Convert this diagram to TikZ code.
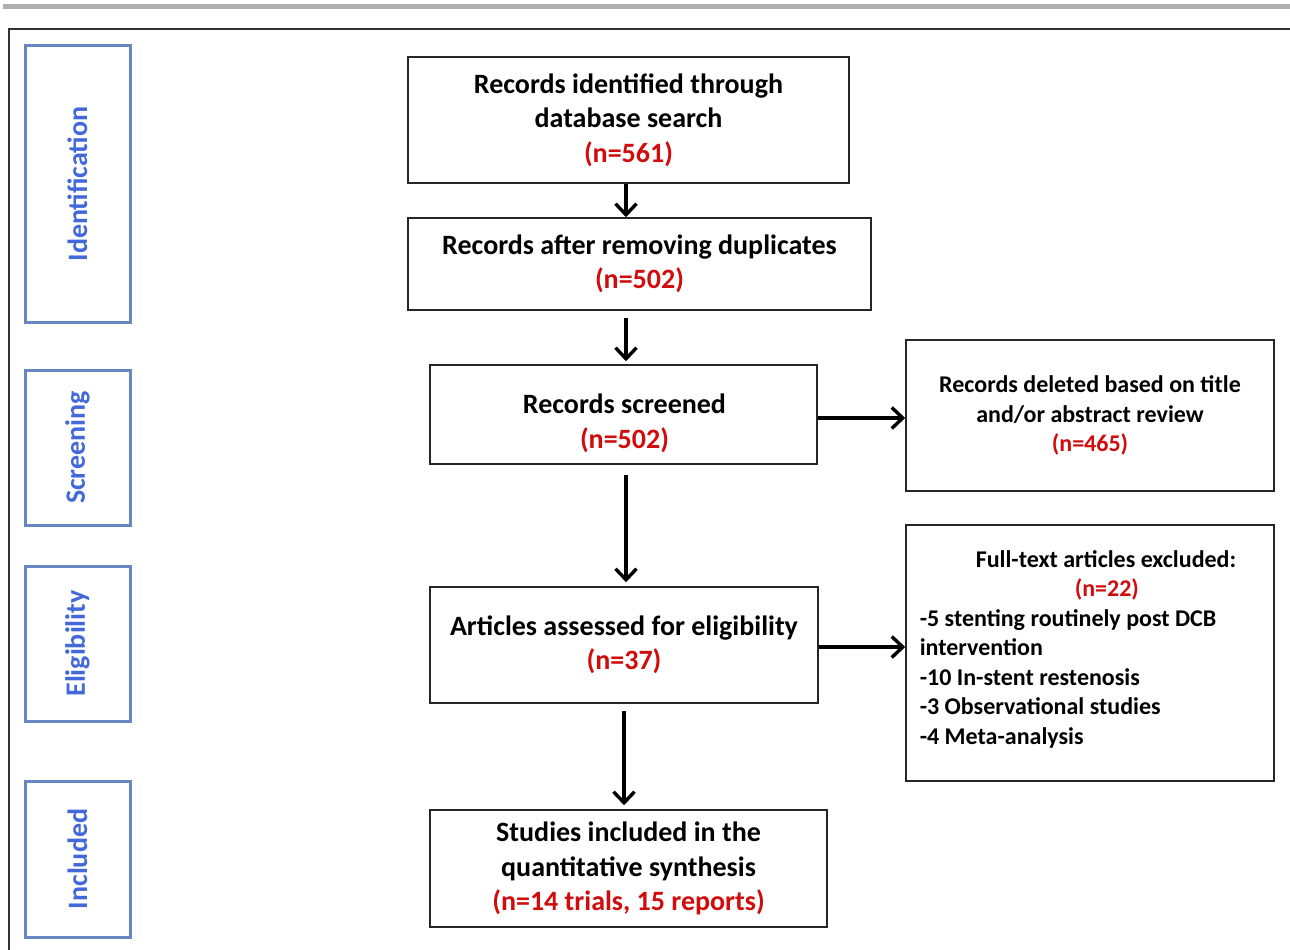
\documentclass[tikz,border=0pt]{standalone}
\usepackage{fontspec}
\setmainfont{Carlito}
\usetikzlibrary{arrows.meta}
\definecolor{nred}{RGB}{208,12,12}
\definecolor{sideblue}{RGB}{66,104,218}
\definecolor{sideframe}{RGB}{106,134,192}
\definecolor{topbar}{RGB}{176,176,180}
\definecolor{frameline}{RGB}{50,50,50}
\begin{document}
\begin{tikzpicture}[x=1pt,y=-1pt,
  flowbox/.style={draw=black!85, line width=1.6pt, fill=white, align=center, inner sep=0pt,
    font=\fontsize{28}{34.5}\selectfont\bfseries},
  flowtext/.style={align=center, inner sep=0pt, font=\fontsize{28}{34.5}\selectfont\bfseries},
  sidebox/.style={draw=sideframe, line width=3pt, fill=white, minimum width=105pt, inner sep=0pt},
  sidetext/.style={text=sideblue, font=\fontsize{28}{30}\selectfont\bfseries, rotate=90},
  exbox/.style={draw=black!85, line width=1.6pt, fill=white, inner sep=0pt,
    font=\fontsize{24}{29.5}\selectfont\bfseries},
  flowarrow/.style={line width=3.6pt, -{Straight Barb[length=11pt,width=21pt,line width=3.4pt]}}
]
\useasboundingbox (0,0) rectangle (1290,950);
\fill[white] (0,0) rectangle (1290,950);
% top bar and frame
\fill[topbar] (3,4) rectangle (1290,9.5);
\draw[frameline, line width=2pt] (9,950) -- (9,29) -- (1290,29);

% side boxes
\node[sidebox, minimum height=276pt] (sid) at (77.5,184) {};
\node[sidetext] (tid) at (sid.center) {Identification};
\node[sidebox, minimum height=155pt] (ssc) at (77.5,447.5) {};
\node[sidetext] (tsc) at (ssc.center) {Screening};
\node[sidebox, minimum height=155pt] (sel) at (77.5,643.5) {};
\node[sidetext] (tel) at (sel.center) {Eligibility};
\node[sidebox, minimum height=156pt] (sin) at (77.5,859) {};
\node[sidetext] (tin) at (sin.center) {Included};

% main flow
\node[flowbox, minimum width=441pt, minimum height=126pt] (b1) at (628.5,120)
  {Records identified through\\database search\\\textcolor{nred}{(n=561)}};
\node[flowbox, minimum width=463pt, minimum height=92pt] (b2) at (639.5,264)
  {Records after removing duplicates\\\textcolor{nred}{(n=502)}};
\node[flowbox, minimum width=387pt, minimum height=99pt] (b3) at (623.5,414.5) {};
\node[flowtext] (t3) at (624.5,423.5) {Records screened\\\textcolor{nred}{(n=502)}};
\node[flowbox, minimum width=388pt, minimum height=116pt] (b4) at (624,645)
  {Articles assessed for eligibility\\\textcolor{nred}{(n=37)}};
\node[flowbox, minimum width=397pt, minimum height=117pt] (b5) at (628.5,868.5)
  {Studies included in the\\quantitative synthesis\\\textcolor{nred}{(n=14 trials, 15 reports)}};

% exclusion boxes
\node[exbox, align=center, minimum width=368pt, minimum height=151pt] (e1) at (1090,415.5)
  {Records deleted based on title\\and/or abstract review\\\textcolor{nred}{(n=465)}};
\node[exbox, minimum width=368pt, minimum height=256pt] (e2) at (1090,653)
  {\begin{tabular}{@{}l@{}}
   \hspace*{56pt}Full-text articles excluded:\\
   \hspace*{155pt}\textcolor{nred}{(n=22)}\\
   -5 stenting routinely post DCB\\
   intervention\\
   -10 In-stent restenosis\\
   -3 Observational studies\\
   -4 Meta-analysis\\[6pt]
   \end{tabular}\hspace*{24pt}};

% arrows
\draw[flowarrow] (b1.south -| 626,0) -- (b2.north -| 626,0);
\draw[flowarrow] ([yshift=-7pt]b2.south -| 626,0) -- ([yshift=3pt]b3.north -| 626,0);
\draw[flowarrow] ([yshift=-10pt]b3.south -| 626,0) -- ([yshift=4pt]b4.north -| 626,0);
\draw[flowarrow] ([yshift=-7pt]b4.south -| 624,0) -- ([yshift=4pt]b5.north -| 624,0);
\draw[flowarrow] (b3.east |- 0,418) -- (e1.west |- 0,418);
\draw[flowarrow] (b4.east |- 0,647) -- (e2.west |- 0,647);
\end{tikzpicture}
\end{document}
